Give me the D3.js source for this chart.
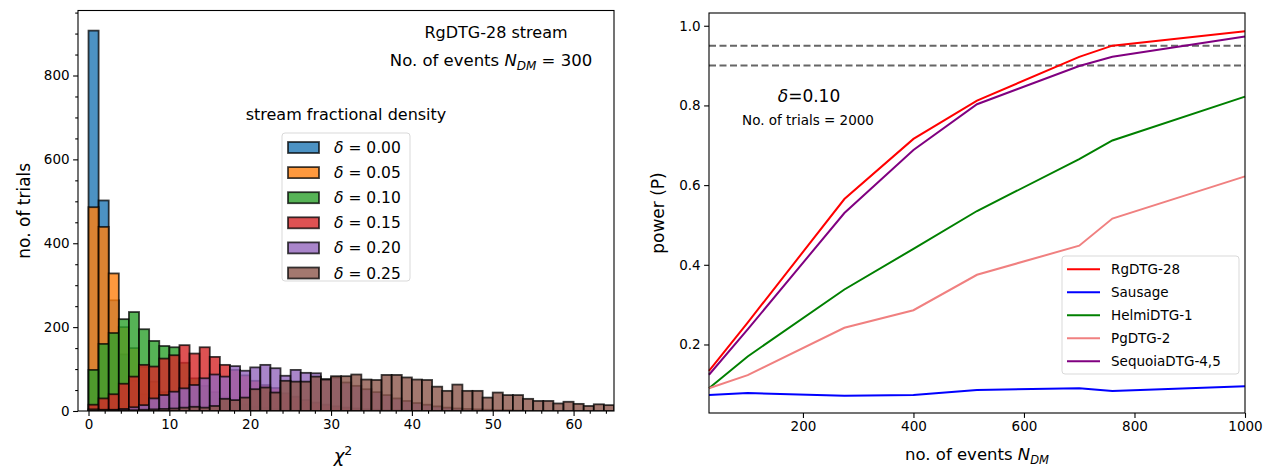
<!DOCTYPE html>
<html>
<head>
<meta charset="utf-8">
<script src="https://cdn.jsdelivr.net/npm/d3@7"></script>
<style>
body { margin: 0; background: #fff; }
svg { display: block; font-family: "DejaVu Sans", sans-serif; }
.tick text { fill: #000; }
</style>
</head>
<body>
<svg id="fig" width="1273" height="468"></svg>
<script>
// ---- left panel: chi^2 histograms, one per stream fractional density
const deltaLabels = ["0.00", "0.05", "0.10", "0.15", "0.20", "0.25"];
const histColors = ["#1f77b4", "#ff7f0e", "#2ca02c", "#d62728", "#9467bd", "#8c564b"];
const binWidth = 1.25;
const counts00 = [907, 502, 264, 135, 72, 40, 25, 16, 10, 7, 5, 3, 2, 1];
const counts05 = [486, 439, 328, 200, 150, 105, 70, 45, 30, 20, 14, 9, 6, 4, 3, 2, 1];
const counts10 = [98, 160, 186, 219, 236, 195, 167, 155, 152, 115, 78, 60, 45, 32, 22, 15, 10, 7, 5, 3, 2, 1];
const counts15 = [15, 30, 40, 65, 82, 110, 106, 125, 133, 157, 137, 152, 129, 110, 98, 85, 72, 62, 55, 42, 34, 26, 20, 15, 11, 8, 6, 4, 3, 2, 2, 1];
const counts20 = [1, 2, 3, 5, 9, 14, 30, 38, 46, 54, 62, 78, 87, 82, 107, 96, 104, 110, 102, 84, 98, 91, 90, 76, 80, 68, 60, 52, 45, 38, 30, 24, 19, 15, 11, 8, 6, 5, 4, 3, 2, 2, 1];
const counts25 = [4, 3, 2, 2, 2, 3, 4, 5, 6, 8, 10, 8, 12, 29, 26, 32, 52, 56, 44, 72, 70, 70, 82, 75, 83, 83, 87, 75, 74, 86, 86, 80, 75, 74, 58, 48, 63, 48, 48, 32, 44, 38, 38, 29, 24, 24, 18, 22, 17, 12, 16, 14];
const allCounts = [counts00, counts05, counts10, counts15, counts20, counts25];
const histXTicks = [0, 10, 20, 30, 40, 50, 60];
const histYTicks = [0, 200, 400, 600, 800];

// ---- right panel: power vs number of events
const nEvents = [30, 100, 275, 400, 515, 700, 760, 1000];
const streamNames = ["RgDTG-28", "Sausage", "HelmiDTG-1", "PgDTG-2", "SequoiaDTG-4,5"];
const lineColors = ["red", "blue", "green", "lightcoral", "purple"];
const powerRg = [0.134, 0.255, 0.565, 0.716, 0.812, 0.922, 0.950, 0.986];
const powerSausage = [0.073, 0.078, 0.071, 0.073, 0.086, 0.090, 0.083, 0.095];
const powerHelmi = [0.090, 0.170, 0.338, 0.440, 0.535, 0.665, 0.712, 0.822];
const powerPg = [0.090, 0.123, 0.242, 0.286, 0.375, 0.448, 0.516, 0.622];
const powerSequoia = [0.124, 0.238, 0.530, 0.688, 0.803, 0.899, 0.922, 0.973];
const allPower = [powerRg, powerSausage, powerHelmi, powerPg, powerSequoia];
const thresholds = [0.95, 0.90];
const powerXTicks = [200, 400, 600, 800, 1000];
const powerYTicks = [0.2, 0.4, 0.6, 0.8, 1.0];

const svg = d3.select("#fig");

// Panel positions
const left = { x0: 78, x1: 614, y0: 10.5, y1: 411 };
const right = { x0: 709, x1: 1245, y0: 13, y1: 413 };

const xH = d3.scaleLinear().domain([-1.3, 65]).range([left.x0, left.x1]);
const yH = d3.scaleLinear().domain([0, 955]).range([left.y1, left.y0]);

const xP = d3.scaleLinear().domain([30, 1000]).range([right.x0, right.x1]);
const yP = d3.scaleLinear().domain([0.028, 1.032]).range([right.y1, right.y0]);

function styleAxis(g) {
    g.select(".domain").remove();
    g.selectAll(".tick line").attr("stroke", "#000").attr("stroke-width", 1.1);
    g.selectAll(".tick text").attr("font-size", 13.5).attr("font-family", "DejaVu Sans");
}

// ---------- left panel
const gL = svg.append("g");
gL.append("defs").append("clipPath").attr("id", "clipL")
    .append("rect").attr("x", left.x0).attr("y", left.y0)
    .attr("width", left.x1 - left.x0).attr("height", left.y1 - left.y0);

const bars = gL.append("g").attr("clip-path", "url(#clipL)");
allCounts.forEach((counts, i) => {
    bars.append("g")
        .selectAll("rect")
        .data(counts)
        .join("rect")
        .attr("x", (d, k) => xH(k * binWidth))
        .attr("width", (d, k) => xH((k + 1) * binWidth) - xH(k * binWidth))
        .attr("y", d => yH(d))
        .attr("height", d => yH(0) - yH(d))
        .attr("fill", histColors[i])
        .attr("fill-opacity", 0.8)
        .attr("stroke", "#000")
        .attr("stroke-opacity", 0.75)
        .attr("stroke-width", 1.8);
});

gL.append("g")
    .attr("transform", `translate(0,${left.y1})`)
    .call(d3.axisBottom(xH).tickValues(histXTicks).tickSize(4.9).tickPadding(3.5))
    .call(styleAxis);
gL.append("g")
    .attr("transform", `translate(0,${left.y1})`)
    .call(d3.axisBottom(xH).tickValues(d3.range(0, 65, 2).filter(v => v % 10 !== 0)).tickSize(2.8).tickFormat(""))
    .call(styleAxis);
gL.append("g")
    .attr("transform", `translate(${left.x0},0)`)
    .call(d3.axisLeft(yH).tickValues(histYTicks).tickSize(4.9).tickPadding(3.5))
    .call(styleAxis);
gL.append("g")
    .attr("transform", `translate(${left.x0},0)`)
    .call(d3.axisLeft(yH).tickValues(d3.range(50, 955, 50).filter(v => v % 200 !== 0)).tickSize(2.8).tickFormat(""))
    .call(styleAxis);

gL.append("rect")
    .attr("x", left.x0).attr("y", left.y0)
    .attr("width", left.x1 - left.x0).attr("height", left.y1 - left.y0)
    .attr("fill", "none").attr("stroke", "#000").attr("stroke-width", 1.1);

// axis labels
gL.append("text")
    .attr("transform", `translate(24,${(left.y0 + left.y1) / 2}) rotate(-90)`)
    .attr("text-anchor", "middle").attr("dominant-baseline", "central")
    .attr("font-size", 17)
    .text("no. of trials");
const chiLabel = gL.append("text")
    .attr("x", (left.x0 + left.x1) / 2 - 3).attr("y", 462)
    .attr("text-anchor", "middle").attr("font-size", 18);
chiLabel.append("tspan").attr("font-style", "italic").text("χ");
chiLabel.append("tspan").attr("font-size", 12.5).attr("dy", -7.5).text("2");

// annotation
gL.append("text")
    .attr("x", 496).attr("y", 38)
    .attr("text-anchor", "middle")
    .attr("font-size", 16)
    .text("RgDTG-28 stream");
const nLabel = gL.append("text")
    .attr("x", 491).attr("y", 66)
    .attr("text-anchor", "middle")
    .attr("font-size", 16.5);
nLabel.append("tspan").text("No. of events ");
nLabel.append("tspan").attr("font-style", "italic").text("N");
nLabel.append("tspan").attr("font-style", "italic").attr("font-size", 12).attr("dy", 4).text("DM");
nLabel.append("tspan").attr("dy", -4).text(" = 300");

// legend
const legL = gL.append("g");
legL.append("text")
    .attr("x", 346).attr("y", 120)
    .attr("text-anchor", "middle").attr("font-size", 16)
    .text("stream fractional density");
legL.append("rect")
    .attr("x", 282).attr("y", 133).attr("width", 128).attr("height", 148)
    .attr("rx", 3).attr("fill", "#fff").attr("fill-opacity", 0.8)
    .attr("stroke", "#d9d9d9").attr("stroke-width", 1);
deltaLabels.forEach((lab, i) => {
    const cy = 147.5 + i * 25.1;
    legL.append("rect")
        .attr("x", 288).attr("y", cy - 5.5).attr("width", 31).attr("height", 11)
        .attr("fill", histColors[i]).attr("fill-opacity", 0.8)
        .attr("stroke", "#000").attr("stroke-opacity", 0.75).attr("stroke-width", 1.8);
    const t = legL.append("text")
        .attr("x", 334).attr("y", cy + 5.5)
        .attr("font-size", 15.5);
    t.append("tspan").attr("font-style", "italic").text("δ");
    t.append("tspan").text(" = " + lab);
});

// ---------- right panel
const gR = svg.append("g");

gR.append("g").selectAll("line")
    .data(thresholds)
    .join("line")
    .attr("x1", right.x0).attr("x2", right.x1)
    .attr("y1", d => yP(d)).attr("y2", d => yP(d))
    .attr("stroke", "#666").attr("stroke-width", 2)
    .attr("stroke-dasharray", "7,3.5");

const line = d3.line().x((d, i) => xP(nEvents[i])).y(d => yP(d));
gR.append("g").selectAll("path")
    .data(allPower)
    .join("path")
    .attr("d", line)
    .attr("fill", "none")
    .attr("stroke", (d, i) => lineColors[i])
    .attr("stroke-width", 2);

gR.append("g")
    .attr("transform", `translate(0,${right.y1})`)
    .call(d3.axisBottom(xP).tickValues(powerXTicks).tickFormat(d3.format("d")).tickSize(4.9).tickPadding(3.5))
    .call(styleAxis);
gR.append("g")
    .attr("transform", `translate(${right.x0},0)`)
    .call(d3.axisLeft(yP).tickValues(powerYTicks).tickFormat(d3.format(".1f")).tickSize(4.9).tickPadding(3.5))
    .call(styleAxis);

gR.append("rect")
    .attr("x", right.x0).attr("y", right.y0)
    .attr("width", right.x1 - right.x0).attr("height", right.y1 - right.y0)
    .attr("fill", "none").attr("stroke", "#000").attr("stroke-width", 1.1);

gR.append("text")
    .attr("transform", `translate(658,${(right.y0 + right.y1) / 2}) rotate(-90)`)
    .attr("text-anchor", "middle").attr("dominant-baseline", "central")
    .attr("font-size", 17)
    .text("power (P)");
const nxLabel = gR.append("text")
    .attr("x", (right.x0 + right.x1) / 2).attr("y", 460)
    .attr("text-anchor", "middle").attr("font-size", 16.5);
nxLabel.append("tspan").text("no. of events ");
nxLabel.append("tspan").attr("font-style", "italic").text("N");
nxLabel.append("tspan").attr("font-style", "italic").attr("font-size", 11.5).attr("dy", 3.5).text("DM");

const dLabel = gR.append("text")
    .attr("x", 809).attr("y", 102)
    .attr("text-anchor", "middle").attr("font-size", 17);
dLabel.append("tspan").attr("font-style", "italic").text("δ");
dLabel.append("tspan").text("=0.10");
gR.append("text")
    .attr("x", 808).attr("y", 125)
    .attr("text-anchor", "middle").attr("font-size", 13.5)
    .text("No. of trials = 2000");

// legend
const legR = gR.append("g");
legR.append("rect")
    .attr("x", 1062).attr("y", 256).attr("width", 177).attr("height", 118)
    .attr("rx", 3).attr("fill", "#fff").attr("fill-opacity", 0.8)
    .attr("stroke", "#d9d9d9").attr("stroke-width", 1);
streamNames.forEach((name, i) => {
    const cy = 269.3 + i * 23;
    legR.append("line")
        .attr("x1", 1067).attr("x2", 1100).attr("y1", cy).attr("y2", cy)
        .attr("stroke", lineColors[i]).attr("stroke-width", 2);
    legR.append("text")
        .attr("x", 1111).attr("y", cy + 5)
        .attr("font-size", 13.5)
        .text(name);
});
</script>
</body>
</html>
